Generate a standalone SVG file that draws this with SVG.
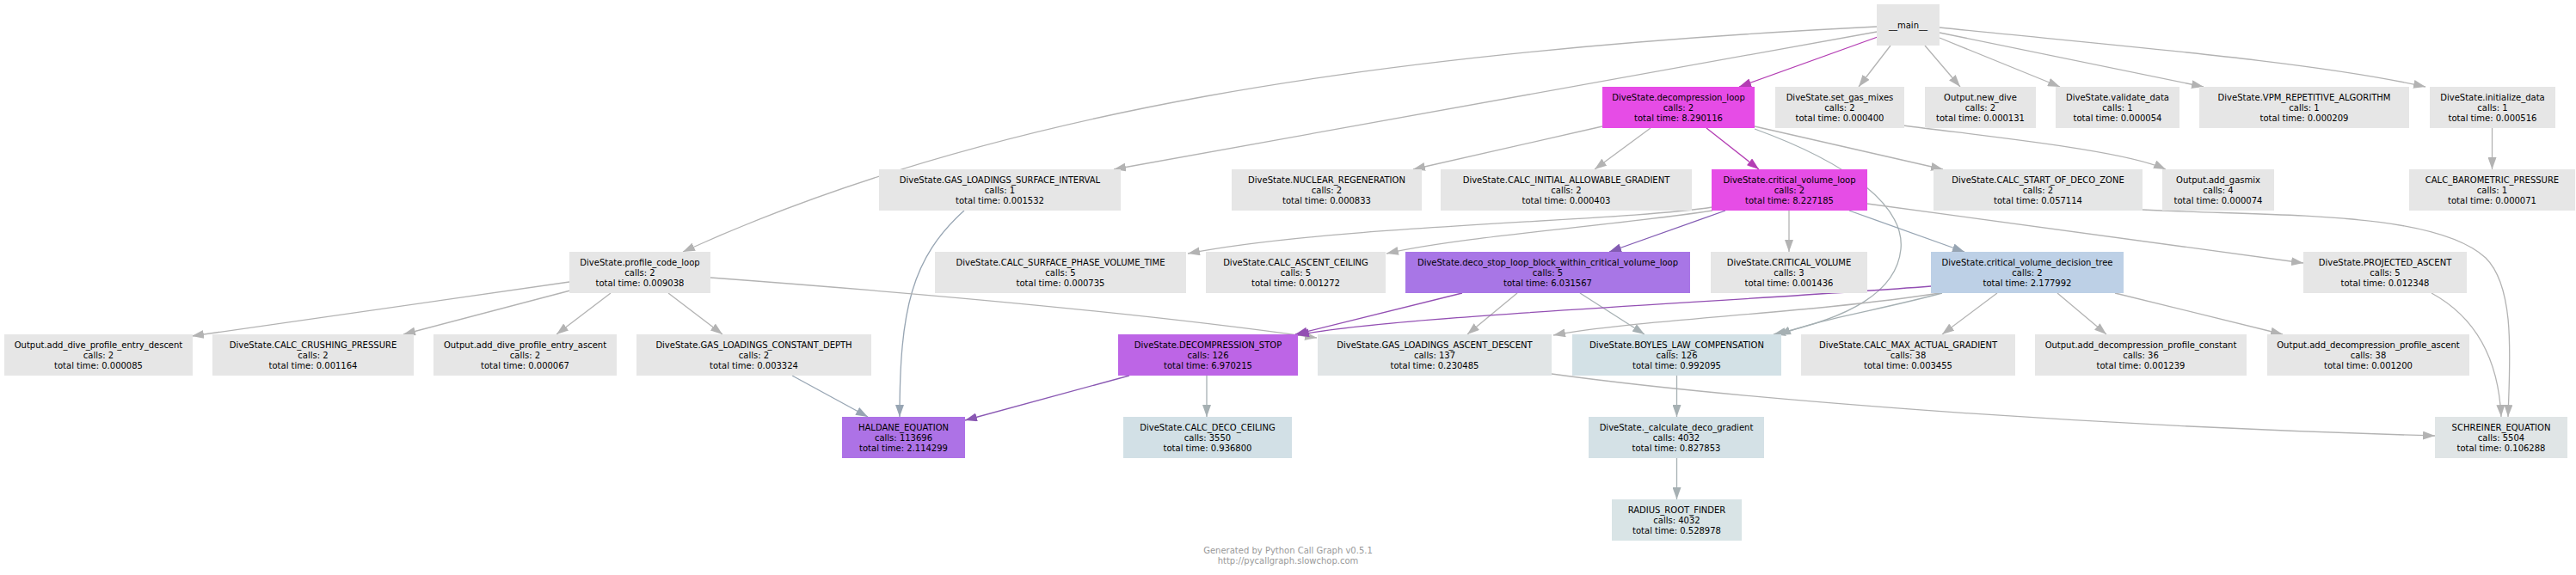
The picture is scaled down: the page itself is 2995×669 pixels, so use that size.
<svg xmlns="http://www.w3.org/2000/svg" width="2995" height="669" viewBox="0 0 2995 669">
<style>
text{font-family:"DejaVu Sans","Liberation Sans",sans-serif;font-size:10px;text-anchor:middle;fill:#000}
.node rect{fill:#e6e6e6}
.e{fill:none;stroke-width:1.3}
.g{stroke:#b3b3b3}.m{stroke:#b33db3}.v{stroke:#835cb3}.p{stroke:#934fb3}.h{stroke:#8a58b3}.b{stroke:#97a5b3}.l{stroke:#a6b0b3}
.g{marker-end:url(#mg)}.m{marker-end:url(#mm)}.v{marker-end:url(#mv)}.p{marker-end:url(#mp)}.h{marker-end:url(#mh)}.b{marker-end:url(#mb)}.l{marker-end:url(#ml)}
.foot{fill:#999999}
</style>
<defs>
<marker id="mg" markerUnits="userSpaceOnUse" markerWidth="14" markerHeight="10" refX="14" refY="5" orient="auto" viewBox="0 0 14 10"><path d="M0,0L14,5L0,10z" fill="#b3b3b3"/></marker>
<marker id="mm" markerUnits="userSpaceOnUse" markerWidth="14" markerHeight="10" refX="14" refY="5" orient="auto" viewBox="0 0 14 10"><path d="M0,0L14,5L0,10z" fill="#b33db3"/></marker>
<marker id="mv" markerUnits="userSpaceOnUse" markerWidth="14" markerHeight="10" refX="14" refY="5" orient="auto" viewBox="0 0 14 10"><path d="M0,0L14,5L0,10z" fill="#835cb3"/></marker>
<marker id="mp" markerUnits="userSpaceOnUse" markerWidth="14" markerHeight="10" refX="14" refY="5" orient="auto" viewBox="0 0 14 10"><path d="M0,0L14,5L0,10z" fill="#934fb3"/></marker>
<marker id="mh" markerUnits="userSpaceOnUse" markerWidth="14" markerHeight="10" refX="14" refY="5" orient="auto" viewBox="0 0 14 10"><path d="M0,0L14,5L0,10z" fill="#8a58b3"/></marker>
<marker id="mb" markerUnits="userSpaceOnUse" markerWidth="14" markerHeight="10" refX="14" refY="5" orient="auto" viewBox="0 0 14 10"><path d="M0,0L14,5L0,10z" fill="#97a5b3"/></marker>
<marker id="ml" markerUnits="userSpaceOnUse" markerWidth="14" markerHeight="10" refX="14" refY="5" orient="auto" viewBox="0 0 14 10"><path d="M0,0L14,5L0,10z" fill="#a6b0b3"/></marker>
</defs>
<rect width="2995" height="669" fill="#fff"/>
<g id="edges">
<path class="e m" d="M2183,43 L2022,101"/>
<path class="e g" d="M2198,53 L2161,101"/>
<path class="e g" d="M2238,53 L2279,101"/>
<path class="e g" d="M2255,44 L2395,101"/>
<path class="e g" d="M2255,38 L2562,101"/>
<path class="e g" d="M2255,32 C2480,55 2690,72 2820,101"/>
<path class="e g" d="M2182,37 L1295,197"/>
<path class="e g" d="M2182,31 C1600,60 1150,130 794,293"/>
<path class="e g" d="M1863,147 L1643,197"/>
<path class="e g" d="M1919,149 L1854,197"/>
<path class="e m" d="M1984,149 L2045,197"/>
<path class="e g" d="M2040,147 L2259,197"/>
<path class="e l" d="M2040,150 C2150,190 2215,240 2210,290 C2205,340 2150,370 2062,389"/>
<path class="e g" d="M2213,146 C2320,160 2470,175 2518,197"/>
<path class="e g" d="M2897.5,149 L2897.5,197"/>
<path class="e b" d="M1121,245 C1060,300 1046,360 1046,485"/>
<path class="e b" d="M921,437 L1009,485"/>
<path class="e h" d="M1313,437 L1122,489"/>
<path class="e l" d="M1403,437 L1403,485"/>
<path class="e g" d="M662,328 L223,391"/>
<path class="e g" d="M663,338 L469,389"/>
<path class="e g" d="M710,341 L647,389"/>
<path class="e g" d="M777,341 L840,389"/>
<path class="e g" d="M826,323 C1000,336 1300,360 1531,393"/>
<path class="e g" d="M1991,241 C1880,258 1550,262 1381,295"/>
<path class="e g" d="M1991,245 C1880,262 1700,275 1612,295"/>
<path class="e v" d="M2006,245 L1871,293"/>
<path class="e g" d="M2080,245 L2080,293"/>
<path class="e b" d="M2150,245 L2284,293"/>
<path class="e g" d="M2171,237 L2678,306"/>
<path class="e p" d="M1700,341 L1506,389"/>
<path class="e g" d="M1764,341 L1706,389"/>
<path class="e l" d="M1837,341 L1912,389"/>
<path class="e p" d="M2245,333 C2000,352 1620,368 1508,390"/>
<path class="e g" d="M2255,341 C2100,365 1900,372 1806,390"/>
<path class="e l" d="M2258,341 C2180,362 2110,372 2068,390"/>
<path class="e g" d="M2322,341 L2258,389"/>
<path class="e g" d="M2392,341 L2449,389"/>
<path class="e g" d="M2459,341 L2654,389"/>
<path class="e g" d="M2827,341 C2880,370 2905,420 2908,485"/>
<path class="e g" d="M2491,244 C2650,252 2830,245 2890,300 C2925,335 2918,420 2916,485"/>
<path class="e g" d="M1804,435 C2000,462 2400,495 2831,507"/>
<path class="e l" d="M1949.5,437 L1949.5,485"/>
<path class="e l" d="M1949.5,533 L1949.5,581"/>
</g>
<g id="n_main" class="node"><rect x="2182" y="5" width="73" height="48"/><text x="2218.5" y="32.5">__main__</text></g>
<g id="n_decompression_loop" class="node"><rect x="1863" y="101" width="177" height="48" style="fill:#e64ce6"/><text x="1951.5" y="116.5">DiveState.decompression_loop<tspan x="1951.5" y="128.5">calls: 2</tspan><tspan x="1951.5" y="140.5">total time: 8.290116</tspan></text></g>
<g id="n_set_gas_mixes" class="node"><rect x="2064" y="101" width="150" height="48"/><text x="2139" y="116.5">DiveState.set_gas_mixes<tspan x="2139" y="128.5">calls: 2</tspan><tspan x="2139" y="140.5">total time: 0.000400</tspan></text></g>
<g id="n_new_dive" class="node"><rect x="2238" y="101" width="129" height="48"/><text x="2302.5" y="116.5">Output.new_dive<tspan x="2302.5" y="128.5">calls: 2</tspan><tspan x="2302.5" y="140.5">total time: 0.000131</tspan></text></g>
<g id="n_validate_data" class="node"><rect x="2390" y="101" width="144" height="48"/><text x="2462" y="116.5">DiveState.validate_data<tspan x="2462" y="128.5">calls: 1</tspan><tspan x="2462" y="140.5">total time: 0.000054</tspan></text></g>
<g id="n_vpm" class="node"><rect x="2557" y="101" width="244" height="48"/><text x="2679" y="116.5">DiveState.VPM_REPETITIVE_ALGORITHM<tspan x="2679" y="128.5">calls: 1</tspan><tspan x="2679" y="140.5">total time: 0.000209</tspan></text></g>
<g id="n_initialize_data" class="node"><rect x="2825" y="101" width="146" height="48"/><text x="2898" y="116.5">DiveState.initialize_data<tspan x="2898" y="128.5">calls: 1</tspan><tspan x="2898" y="140.5">total time: 0.000516</tspan></text></g>
<g id="n_gl_surface" class="node"><rect x="1022" y="197" width="281" height="48"/><text x="1162.5" y="212.5">DiveState.GAS_LOADINGS_SURFACE_INTERVAL<tspan x="1162.5" y="224.5">calls: 1</tspan><tspan x="1162.5" y="236.5">total time: 0.001532</tspan></text></g>
<g id="n_nuclear" class="node"><rect x="1432" y="197" width="221" height="48"/><text x="1542.5" y="212.5">DiveState.NUCLEAR_REGENERATION<tspan x="1542.5" y="224.5">calls: 2</tspan><tspan x="1542.5" y="236.5">total time: 0.000833</tspan></text></g>
<g id="n_calc_initial" class="node"><rect x="1675" y="197" width="292" height="48"/><text x="1821" y="212.5">DiveState.CALC_INITIAL_ALLOWABLE_GRADIENT<tspan x="1821" y="224.5">calls: 2</tspan><tspan x="1821" y="236.5">total time: 0.000403</tspan></text></g>
<g id="n_critical_volume_loop" class="node"><rect x="1990" y="197" width="181" height="48" style="fill:#e64de6"/><text x="2080.5" y="212.5">DiveState.critical_volume_loop<tspan x="2080.5" y="224.5">calls: 2</tspan><tspan x="2080.5" y="236.5">total time: 8.227185</tspan></text></g>
<g id="n_calc_start" class="node"><rect x="2248" y="197" width="243" height="48" style="fill:#e5e6e6"/><text x="2369.5" y="212.5">DiveState.CALC_START_OF_DECO_ZONE<tspan x="2369.5" y="224.5">calls: 2</tspan><tspan x="2369.5" y="236.5">total time: 0.057114</tspan></text></g>
<g id="n_add_gasmix" class="node"><rect x="2514" y="197" width="130" height="48"/><text x="2579" y="212.5">Output.add_gasmix<tspan x="2579" y="224.5">calls: 4</tspan><tspan x="2579" y="236.5">total time: 0.000074</tspan></text></g>
<g id="n_baro" class="node"><rect x="2801" y="197" width="193" height="48"/><text x="2897.5" y="212.5">CALC_BAROMETRIC_PRESSURE<tspan x="2897.5" y="224.5">calls: 1</tspan><tspan x="2897.5" y="236.5">total time: 0.000071</tspan></text></g>
<g id="n_profile_code_loop" class="node"><rect x="662" y="293" width="164" height="48"/><text x="744" y="308.5">DiveState.profile_code_loop<tspan x="744" y="320.5">calls: 2</tspan><tspan x="744" y="332.5">total time: 0.009038</tspan></text></g>
<g id="n_calc_surface" class="node"><rect x="1087" y="293" width="292" height="48"/><text x="1233" y="308.5">DiveState.CALC_SURFACE_PHASE_VOLUME_TIME<tspan x="1233" y="320.5">calls: 5</tspan><tspan x="1233" y="332.5">total time: 0.000735</tspan></text></g>
<g id="n_calc_ascent" class="node"><rect x="1402" y="293" width="209" height="48"/><text x="1506.5" y="308.5">DiveState.CALC_ASCENT_CEILING<tspan x="1506.5" y="320.5">calls: 5</tspan><tspan x="1506.5" y="332.5">total time: 0.001272</tspan></text></g>
<g id="n_deco_stop_loop" class="node"><rect x="1634" y="293" width="331" height="48" style="fill:#a876e6"/><text x="1799.5" y="308.5">DiveState.deco_stop_loop_block_within_critical_volume_loop<tspan x="1799.5" y="320.5">calls: 5</tspan><tspan x="1799.5" y="332.5">total time: 6.031567</tspan></text></g>
<g id="n_critical_volume" class="node"><rect x="1989" y="293" width="182" height="48"/><text x="2080" y="308.5">DiveState.CRITICAL_VOLUME<tspan x="2080" y="320.5">calls: 3</tspan><tspan x="2080" y="332.5">total time: 0.001436</tspan></text></g>
<g id="n_decision_tree" class="node"><rect x="2245" y="293" width="224" height="48" style="fill:#bdd0e6"/><text x="2357" y="308.5">DiveState.critical_volume_decision_tree<tspan x="2357" y="320.5">calls: 2</tspan><tspan x="2357" y="332.5">total time: 2.177992</tspan></text></g>
<g id="n_projected" class="node"><rect x="2678" y="293" width="190" height="48"/><text x="2773" y="308.5">DiveState.PROJECTED_ASCENT<tspan x="2773" y="320.5">calls: 5</tspan><tspan x="2773" y="332.5">total time: 0.012348</tspan></text></g>
<g id="n_entry_descent" class="node"><rect x="5" y="389" width="219" height="48"/><text x="114.5" y="404.5">Output.add_dive_profile_entry_descent<tspan x="114.5" y="416.5">calls: 2</tspan><tspan x="114.5" y="428.5">total time: 0.000085</tspan></text></g>
<g id="n_crushing" class="node"><rect x="247" y="389" width="234" height="48"/><text x="364" y="404.5">DiveState.CALC_CRUSHING_PRESSURE<tspan x="364" y="416.5">calls: 2</tspan><tspan x="364" y="428.5">total time: 0.001164</tspan></text></g>
<g id="n_entry_ascent" class="node"><rect x="504" y="389" width="213" height="48"/><text x="610.5" y="404.5">Output.add_dive_profile_entry_ascent<tspan x="610.5" y="416.5">calls: 2</tspan><tspan x="610.5" y="428.5">total time: 0.000067</tspan></text></g>
<g id="n_gl_constant" class="node"><rect x="740" y="389" width="273" height="48"/><text x="876.5" y="404.5">DiveState.GAS_LOADINGS_CONSTANT_DEPTH<tspan x="876.5" y="416.5">calls: 2</tspan><tspan x="876.5" y="428.5">total time: 0.003324</tspan></text></g>
<g id="n_decompression_stop" class="node"><rect x="1300" y="389" width="209" height="48" style="fill:#bd65e6"/><text x="1404.5" y="404.5">DiveState.DECOMPRESSION_STOP<tspan x="1404.5" y="416.5">calls: 126</tspan><tspan x="1404.5" y="428.5">total time: 6.970215</tspan></text></g>
<g id="n_gl_ascent_descent" class="node"><rect x="1532" y="389" width="272" height="48" style="fill:#e1e5e6"/><text x="1668" y="404.5">DiveState.GAS_LOADINGS_ASCENT_DESCENT<tspan x="1668" y="416.5">calls: 137</tspan><tspan x="1668" y="428.5">total time: 0.230485</tspan></text></g>
<g id="n_boyles" class="node"><rect x="1828" y="389" width="243" height="48" style="fill:#d3e1e6"/><text x="1949.5" y="404.5">DiveState.BOYLES_LAW_COMPENSATION<tspan x="1949.5" y="416.5">calls: 126</tspan><tspan x="1949.5" y="428.5">total time: 0.992095</tspan></text></g>
<g id="n_calc_max" class="node"><rect x="2094" y="389" width="249" height="48"/><text x="2218.5" y="404.5">DiveState.CALC_MAX_ACTUAL_GRADIENT<tspan x="2218.5" y="416.5">calls: 38</tspan><tspan x="2218.5" y="428.5">total time: 0.003455</tspan></text></g>
<g id="n_profile_constant" class="node"><rect x="2366" y="389" width="246" height="48"/><text x="2489" y="404.5">Output.add_decompression_profile_constant<tspan x="2489" y="416.5">calls: 36</tspan><tspan x="2489" y="428.5">total time: 0.001239</tspan></text></g>
<g id="n_profile_ascent" class="node"><rect x="2636" y="389" width="235" height="48"/><text x="2753.5" y="404.5">Output.add_decompression_profile_ascent<tspan x="2753.5" y="416.5">calls: 38</tspan><tspan x="2753.5" y="428.5">total time: 0.001200</tspan></text></g>
<g id="n_haldane" class="node"><rect x="979" y="485" width="143" height="48" style="fill:#ad72e6"/><text x="1050.5" y="500.5">HALDANE_EQUATION<tspan x="1050.5" y="512.5">calls: 113696</tspan><tspan x="1050.5" y="524.5">total time: 2.114299</tspan></text></g>
<g id="n_deco_ceiling" class="node"><rect x="1306" y="485" width="196" height="48" style="fill:#d2e0e6"/><text x="1404" y="500.5">DiveState.CALC_DECO_CEILING<tspan x="1404" y="512.5">calls: 3550</tspan><tspan x="1404" y="524.5">total time: 0.936800</tspan></text></g>
<g id="n_deco_gradient" class="node"><rect x="1847" y="485" width="204" height="48" style="fill:#d4e1e6"/><text x="1949" y="500.5">DiveState._calculate_deco_gradient<tspan x="1949" y="512.5">calls: 4032</tspan><tspan x="1949" y="524.5">total time: 0.827853</tspan></text></g>
<g id="n_schreiner" class="node"><rect x="2831" y="485" width="154" height="48" style="fill:#e0e5e6"/><text x="2908" y="500.5">SCHREINER_EQUATION<tspan x="2908" y="512.5">calls: 5504</tspan><tspan x="2908" y="524.5">total time: 0.106288</tspan></text></g>
<g id="n_radius" class="node"><rect x="1874" y="581" width="151" height="48" style="fill:#d9e4e6"/><text x="1949.5" y="596.5">RADIUS_ROOT_FINDER<tspan x="1949.5" y="608.5">calls: 4032</tspan><tspan x="1949.5" y="620.5">total time: 0.528978</tspan></text></g>
<g id="footer"><text class="foot" x="1497.5" y="643.5">Generated by Python Call Graph v0.5.1</text><text class="foot" x="1497.5" y="655.5">http://pycallgraph.slowchop.com</text></g>
</svg>
